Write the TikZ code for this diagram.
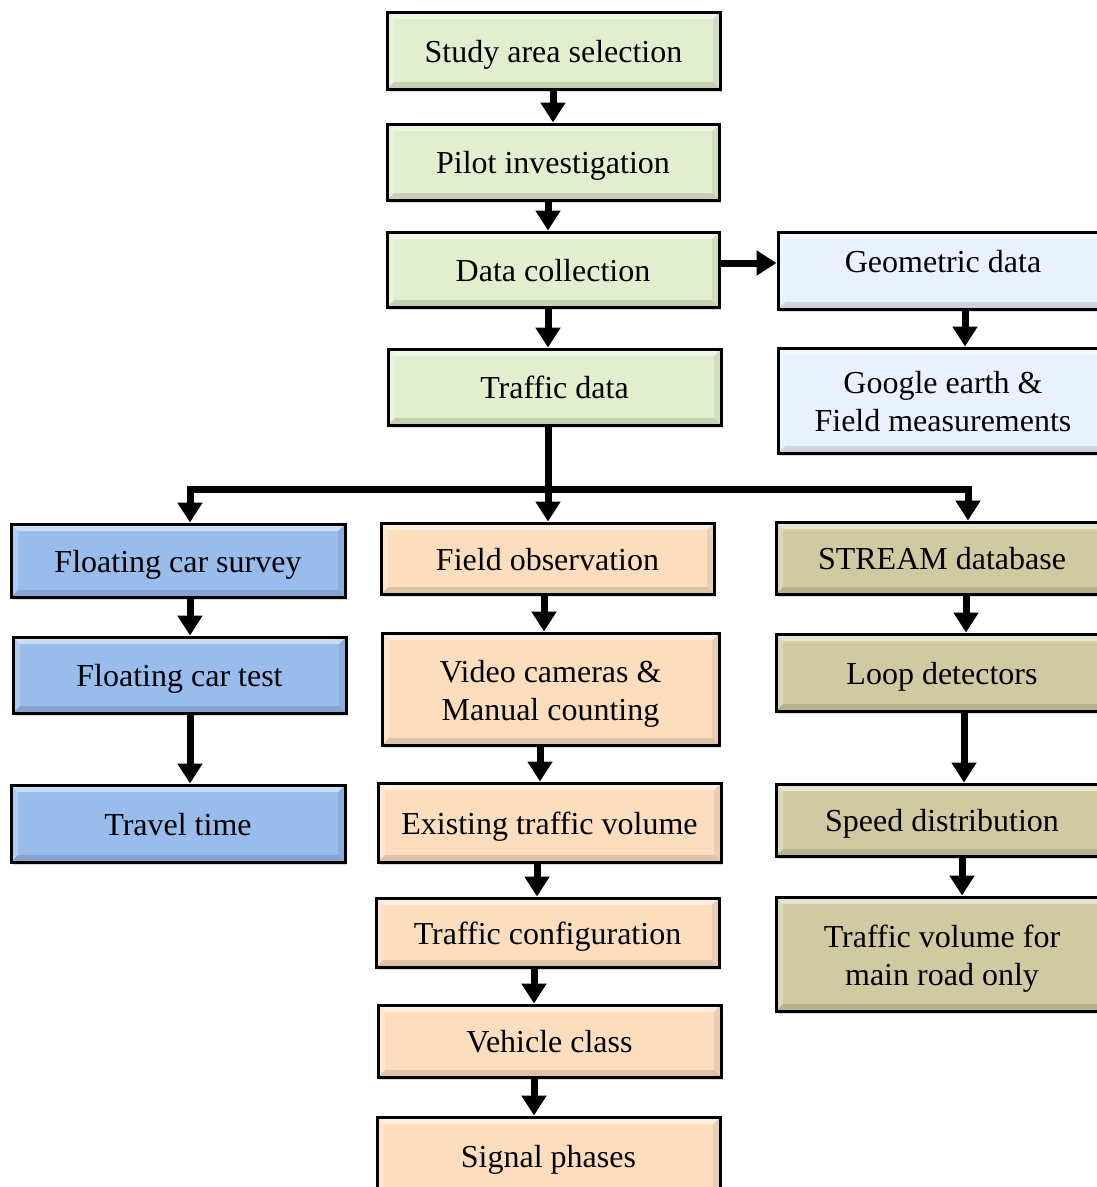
\documentclass[tikz,border=0pt]{standalone}
\usepackage{fontspec}
\setmainfont{Liberation Serif}
\usetikzlibrary{arrows.meta,shadows}
\definecolor{cgreen}{RGB}{226,239,206}
\definecolor{clblue}{RGB}{232,241,253}
\definecolor{cblue}{RGB}{152,188,236}
\definecolor{corange}{RGB}{252,222,191}
\definecolor{ckhaki}{RGB}{208,202,162}
\newcommand{\pb}{path picture bounding box}
\newcommand{\twoline}[2]{\vtop{\halign{\hfil##\hfil\cr #1\cr #2\cr}}}
\tikzset{
  bevel/.style={path picture={
    \fill[white,opacity=0.5] (\pb.north west) -- (\pb.north east) -- ([shift={(-7pt,-7pt)}]\pb.north east) -- ([shift={(7pt,-7pt)}]\pb.north west) -- cycle;
    \fill[white,opacity=0.25] (\pb.north west) -- ([shift={(7pt,-7pt)}]\pb.north west) -- ([shift={(7pt,7pt)}]\pb.south west) -- (\pb.south west) -- cycle;
    \fill[black,opacity=0.12] (\pb.south west) -- (\pb.south east) -- ([shift={(-7pt,7pt)}]\pb.south east) -- ([shift={(7pt,7pt)}]\pb.south west) -- cycle;
    \fill[black,opacity=0.07] (\pb.north east) -- ([shift={(-7pt,-7pt)}]\pb.north east) -- ([shift={(-7pt,7pt)}]\pb.south east) -- (\pb.south east) -- cycle;
  }},
  box/.style={draw=black, line width=3pt, inner sep=0pt, align=center,
    font=\fontsize{32}{38}\selectfont, text height=23pt, text depth=0pt,
    drop shadow={shadow xshift=2pt, shadow yshift=-3pt, opacity=0.3}, bevel},
  grn/.style={box, fill=cgreen},
  lbl/.style={box, fill=clblue},
  blu/.style={box, fill=cblue},
  org/.style={box, fill=corange},
  kha/.style={box, fill=ckhaki},
  arr/.style={line width=7pt, -{Triangle[width=24pt,length=20pt]}},
  ln/.style={line width=7pt, line cap=rect},
}
\begin{document}
\begin{tikzpicture}[x=1pt,y=-1pt]
\useasboundingbox (0,0) rectangle (1097,1187);
\clip (0,0) rectangle (1097,1187);
% centre column (top)
\node[grn, minimum width=333pt, minimum height=77pt] (study) at (553.5,50.5) {Study area selection};
\node[grn, minimum width=332pt, minimum height=76pt] (pilot) at (553,162) {Pilot investigation};
\node[grn, minimum width=332pt, minimum height=75pt] (datac) at (553,269.5) {Data collection};
\node[grn, minimum width=333pt, minimum height=76pt] (traffic) at (554.5,387) {Traffic data};
% geometric
\node[lbl, minimum width=330pt, minimum height=77pt, text height=3pt] (geo) at (943,270.5) {Geometric data};
\node[lbl, minimum width=330pt, minimum height=105pt, text height=0pt, text depth=15pt] (google) at (943,400.5) {\twoline{Google earth \&}{Field measurements}};
% left column
\node[blu, minimum width=334pt, minimum height=73pt] (fcs) at (178,560.5) {Floating car survey};
\node[blu, minimum width=333pt, minimum height=76pt] (fct) at (179.5,675) {Floating car test};
\node[blu, minimum width=334pt, minimum height=77pt] (tt) at (178,823.5) {Travel time};
% middle column
\node[org, minimum width=333pt, minimum height=71pt] (fo) at (547.5,558.5) {Field observation};
\node[org, minimum width=337pt, minimum height=112pt, text height=0pt, text depth=14pt] (video) at (550.5,689) {\twoline{Video cameras \&}{Manual counting}};
\node[org, minimum width=343pt, minimum height=79pt] (etv) at (549.5,822.5) {Existing traffic volume};
\node[org, minimum width=343pt, minimum height=69pt] (tc) at (547.5,932.5) {Traffic configuration};
\node[org, minimum width=343pt, minimum height=72pt] (vc) at (549.5,1041) {Vehicle class};
\node[org, minimum width=343pt, minimum height=77pt] (sp) at (548.5,1155.5) {Signal phases};
% right column
\node[kha, minimum width=332pt, minimum height=72pt] (stream) at (942,558) {STREAM database};
\node[kha, minimum width=332pt, minimum height=77pt] (loop) at (942,672.5) {Loop detectors};
\node[kha, minimum width=332pt, minimum height=72pt] (speed) at (942,820) {Speed distribution};
\node[kha, minimum width=332pt, minimum height=114pt, text height=0pt, text depth=14pt] (tv) at (942,954) {\twoline{Traffic volume for}{main road only}};
% helper x positions
\coordinate (x1) at (553,0);
\coordinate (x2) at (548,0);
\coordinate (xg) at (965,0);
\coordinate (jl) at (190,489);
\coordinate (jc) at (548,489);
\coordinate (jr) at (968,489);
\coordinate (m1) at (544,0);
\coordinate (m2) at (540,0);
\coordinate (m3) at (537,0);
\coordinate (m4) at (534,0);
\coordinate (r1) at (966,0);
\coordinate (r2) at (964,0);
\coordinate (r3) at (962,0);
\coordinate (ya) at (0,263);
% connectors
\draw[arr] (study.south -| x1) -- (pilot.north -| x1);
\draw[arr] (pilot.south -| x2) -- (datac.north -| x2);
\draw[arr] (datac.south -| x2) -- (traffic.north -| x2);
\draw[arr] (datac.east |- ya) -- (geo.west |- ya);
\draw[arr] (geo.south -| xg) -- (google.north -| xg);
\draw[line width=7pt] (traffic.south -| jc) -- (jc);
\draw[ln] (jl) -- (jr);
\draw[arr] (jl) -- (fcs.north -| jl);
\draw[arr] (jc) -- (fo.north -| jc);
\draw[arr] (jr) -- (stream.north -| jr);
\draw[arr] (fcs.south -| jl) -- (fct.north -| jl);
\draw[arr] (fct.south -| jl) -- (tt.north -| jl);
\draw[arr] (fo.south -| m1) -- (video.north -| m1);
\draw[arr] (video.south -| m2) -- (etv.north -| m2);
\draw[arr] (etv.south -| m3) -- (tc.north -| m3);
\draw[arr] (tc.south -| m4) -- (vc.north -| m4);
\draw[arr] (vc.south -| m4) -- (sp.north -| m4);
\draw[arr] (stream.south -| r1) -- (loop.north -| r1);
\draw[arr] (loop.south -| r2) -- (speed.north -| r2);
\draw[arr] (speed.south -| r3) -- (tv.north -| r3);
\end{tikzpicture}
\end{document}
